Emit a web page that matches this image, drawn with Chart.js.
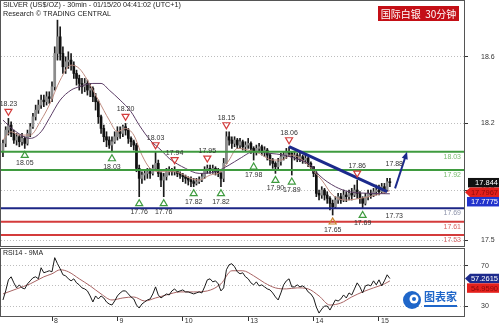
<!DOCTYPE html>
<html>
<head>
<meta charset="utf-8">
<title>Silver 30min</title>
<script src="https://cdn.jsdelivr.net/npm/chart.js@4.4.1/dist/chart.umd.min.js"></script>
<style>
  html, body { margin: 0; padding: 0; background: #fff; }
  #wrap { position: relative; width: 499px; height: 326px; overflow: hidden; }
  canvas { position: absolute; left: 0; }
  #priceChart { top: 0; }
  #rsiChart { top: 247px; }
</style>
</head>
<body>
<div id="wrap">
  <canvas id="priceChart" width="499" height="247"></canvas>
  <canvas id="rsiChart" width="499" height="79"></canvas>
</div>
<script>
// hourly bars, index 0 = 7 Jan 06:00, last = 15 Jan 04:00
const dayStart = [18, 42, 66, 90, 114, 138];
const dayLabels = ['8', '9', '10', '13', '14', '15'];

const open = [
  18.03, 18.08, 18.16, 18.19, 18.14, 18.10, 18.12, 18.09, 18.11, 18.08, 18.14, 18.18, 18.24, 18.28, 18.31, 18.34, 18.33, 18.36,
  18.35, 18.42, 18.62, 18.72, 18.62, 18.54, 18.57, 18.58, 18.55, 18.50, 18.47, 18.44, 18.42, 18.44, 18.40, 18.41, 18.36, 18.33, 18.24, 18.17, 18.12, 18.10, 18.07, 18.09,
  18.12, 18.15, 18.14, 18.18, 18.16, 18.11, 18.09, 18.07, 17.93, 17.87, 17.89, 17.90, 17.91, 17.90, 17.93, 17.96, 17.90, 17.86, 17.88, 17.91, 17.92, 17.91, 17.92, 17.90,
  17.89, 17.88, 17.87, 17.86, 17.85, 17.84, 17.85, 17.86, 17.88, 17.92, 17.93, 17.92, 17.93, 17.91, 17.90, 17.87, 17.96, 18.12, 18.10, 18.08, 18.10, 18.07, 18.09, 18.06,
  18.07, 18.08, 18.05, 18.03, 18.05, 18.06, 18.03, 18.04, 18.01, 17.98, 17.96, 17.94, 17.97, 18.00, 18.01, 18.03, 18.02, 18.00, 18.01, 17.99, 18.00, 17.98, 17.99, 17.96,
  17.94, 17.90, 17.78, 17.77, 17.80, 17.77, 17.75, 17.72, 17.70, 17.74, 17.76, 17.74, 17.77, 17.76, 17.78, 17.77, 17.80, 17.78, 17.75, 17.72, 17.76, 17.78, 17.77, 17.79,
  17.80, 17.79, 17.82, 17.80, 17.85
];
const high = [
  18.10, 18.18, 18.23, 18.21, 18.16, 18.14, 18.13, 18.14, 18.12, 18.16, 18.20, 18.26, 18.31, 18.34, 18.37, 18.37, 18.39, 18.39,
  18.45, 18.66, 18.82, 18.78, 18.66, 18.60, 18.63, 18.62, 18.57, 18.52, 18.49, 18.47, 18.47, 18.46, 18.44, 18.42, 18.38, 18.34, 18.25, 18.19, 18.15, 18.12, 18.12, 18.15,
  18.18, 18.18, 18.19, 18.20, 18.17, 18.12, 18.10, 18.08, 17.95, 17.91, 17.92, 17.93, 17.93, 17.95, 18.03, 17.98, 17.91, 17.90, 17.93, 17.94, 17.93, 17.94, 17.92, 17.91,
  17.90, 17.89, 17.88, 17.88, 17.87, 17.87, 17.88, 17.90, 17.94, 17.95, 17.95, 17.95, 17.94, 17.93, 17.91, 17.99, 18.15, 18.15, 18.12, 18.12, 18.11, 18.11, 18.10, 18.09,
  18.11, 18.09, 18.06, 18.07, 18.08, 18.07, 18.06, 18.05, 18.02, 17.99, 17.97, 17.99, 18.02, 18.03, 18.05, 18.06, 18.03, 18.03, 18.02, 18.02, 18.01, 18.01, 18.00, 17.97,
  17.94, 17.91, 17.80, 17.82, 17.81, 17.79, 17.76, 17.74, 17.76, 17.78, 17.78, 17.80, 17.79, 17.80, 17.81, 17.83, 17.86, 17.79, 17.76, 17.78, 17.80, 17.80, 17.81, 17.83,
  17.83, 17.84, 17.84, 17.87, 17.87
];
const low = [
  18.00, 18.06, 18.13, 18.12, 18.08, 18.07, 18.06, 18.07, 18.05, 18.07, 18.12, 18.17, 18.22, 18.26, 18.29, 18.30, 18.31, 18.32,
  18.33, 18.40, 18.58, 18.58, 18.50, 18.50, 18.53, 18.52, 18.47, 18.43, 18.40, 18.38, 18.39, 18.37, 18.36, 18.33, 18.28, 18.20, 18.14, 18.09, 18.06, 18.05, 18.03, 18.08,
  18.10, 18.11, 18.12, 18.13, 18.08, 18.06, 18.04, 17.91, 17.76, 17.84, 17.86, 17.87, 17.87, 17.89, 17.92, 17.88, 17.82, 17.76, 17.86, 17.89, 17.89, 17.89, 17.88, 17.87,
  17.85, 17.84, 17.83, 17.82, 17.82, 17.83, 17.84, 17.85, 17.87, 17.90, 17.90, 17.90, 17.89, 17.88, 17.82, 17.85, 17.96, 18.07, 18.05, 18.06, 18.05, 18.05, 18.04, 18.03,
  18.05, 18.02, 17.98, 18.01, 18.03, 18.01, 18.00, 17.98, 17.95, 17.93, 17.90, 17.92, 17.95, 17.98, 17.99, 18.00, 17.89, 17.98, 17.97, 17.97, 17.96, 17.96, 17.94, 17.92,
  17.88, 17.76, 17.74, 17.75, 17.74, 17.72, 17.68, 17.65, 17.69, 17.72, 17.72, 17.73, 17.73, 17.74, 17.74, 17.76, 17.75, 17.72, 17.69, 17.71, 17.74, 17.75, 17.76, 17.77,
  17.77, 17.78, 17.78, 17.79, 17.82
];
const close = [
  18.08, 18.16, 18.19, 18.14, 18.10, 18.12, 18.09, 18.11, 18.08, 18.14, 18.18, 18.24, 18.28, 18.31, 18.34, 18.33, 18.36, 18.35,
  18.42, 18.62, 18.72, 18.62, 18.54, 18.57, 18.58, 18.55, 18.50, 18.47, 18.44, 18.42, 18.44, 18.40, 18.41, 18.36, 18.33, 18.24, 18.17, 18.12, 18.10, 18.07, 18.09, 18.12,
  18.15, 18.14, 18.18, 18.16, 18.11, 18.09, 18.07, 17.93, 17.87, 17.89, 17.90, 17.91, 17.90, 17.93, 17.96, 17.90, 17.86, 17.88, 17.91, 17.92, 17.91, 17.92, 17.90, 17.89,
  17.88, 17.87, 17.86, 17.85, 17.84, 17.85, 17.86, 17.88, 17.92, 17.93, 17.92, 17.93, 17.91, 17.90, 17.87, 17.96, 18.12, 18.10, 18.08, 18.10, 18.07, 18.09, 18.06, 18.07,
  18.08, 18.05, 18.03, 18.05, 18.06, 18.03, 18.04, 18.01, 17.98, 17.96, 17.94, 17.97, 18.00, 18.01, 18.03, 18.02, 18.00, 18.01, 17.99, 18.00, 17.98, 17.99, 17.96, 17.94,
  17.90, 17.78, 17.77, 17.80, 17.77, 17.75, 17.72, 17.70, 17.74, 17.76, 17.74, 17.77, 17.76, 17.78, 17.77, 17.80, 17.78, 17.75, 17.72, 17.76, 17.78, 17.77, 17.79, 17.80,
  17.79, 17.82, 17.80, 17.85, 17.844
];

// moving averages (bar index, price)
const maFastIdx = [0, 3, 6, 10, 14, 17, 21, 25, 28, 31, 35, 39, 42, 45, 48, 51, 54, 58, 63, 69, 72, 76, 80, 83, 86, 90, 94, 99, 102, 106, 110, 113, 117, 121, 126, 131, 137, 142];
const maFastVal = [18.10, 18.15, 18.13, 18.13, 18.22, 18.31, 18.46, 18.55, 18.53, 18.46, 18.34, 18.22, 18.15, 18.17, 18.13, 18.01, 17.93, 17.91, 17.91, 17.87, 17.86, 17.89, 17.91, 17.98, 18.05, 18.04, 18.02, 17.98, 17.98, 18.01, 17.98, 17.93, 17.86, 17.77, 17.74, 17.75, 17.77, 17.7967];
const maSlowIdx = [0, 4, 10, 14, 17, 21, 25, 28, 33, 36, 39, 43, 47, 50, 54, 58, 61, 67, 72, 78, 83, 87, 92, 98, 103, 109, 113, 116, 122, 127, 135, 142];
const maSlowVal = [18.22, 18.16, 18.11, 18.15, 18.23, 18.34, 18.40, 18.42, 18.44, 18.44, 18.40, 18.34, 18.27, 18.19, 18.10, 18.04, 17.99, 17.93, 17.90, 17.91, 17.95, 17.99, 18.03, 18.02, 18.01, 17.98, 17.95, 17.89, 17.82, 17.79, 17.78, 17.7775];

const rsi = [
  36, 45, 56, 59, 53, 48, 51, 48, 47, 52, 55, 58, 59, 57, 68, 63, 64, 65,
  64, 78, 72, 67, 61, 60, 57, 55, 57, 53, 51, 48, 47, 45, 40, 34, 40, 37, 40, 38, 34, 32, 31, 35,
  40, 43, 45, 45, 42, 39, 37, 31, 28, 32, 34, 36, 37, 42, 49, 41, 38, 40, 42, 41, 45, 47, 44, 45,
  46, 44, 44, 43, 42, 43, 44, 43, 49, 56, 57, 54, 55, 52, 45, 48, 66, 71, 72, 69, 64, 62, 63, 59,
  57, 53, 51, 54, 50, 51, 49, 47, 46, 43, 39, 36, 43, 51, 55, 57, 49, 49, 51, 49, 50, 48, 44, 42,
  38, 29, 23, 27, 30, 30, 26, 31, 36, 35, 37, 41, 38, 43, 41, 47, 53, 49, 43, 50, 51, 50, 55, 51,
  56, 50, 55, 61, 57.26
];
const rsiMaIdx = [0, 5, 10, 15, 18, 21, 24, 28, 32, 36, 40, 44, 48, 52, 56, 60, 65, 70, 75, 80, 84, 88, 92, 96, 100, 104, 108, 112, 116, 120, 124, 128, 132, 136, 140, 142];
const rsiMaVal = [42, 47, 52, 59, 62, 66, 64, 57, 50, 42, 36, 38, 39, 35, 38, 41, 44, 44, 45, 52, 65, 65, 60, 53, 48, 47, 48, 47, 40, 31, 33, 39, 44, 48, 52, 54.96];

// drawn studies
const levels = [18.03, 17.92, 17.69, 17.61, 17.53];
const levelColors = ['#3f9b3f', '#3f9b3f', '#1c2686', '#d43b3b', '#d43b3b'];
const levelTextColors = ['#79bb6f', '#79bb6f', '#8d93aa', '#d86464', '#d86464'];

const peakIdx = [2, 45, 56, 63, 75, 82, 105, 130];
const peakVal = [18.23, 18.20, 18.03, 17.94, 17.95, 18.15, 18.06, 17.86];
const troughIdx = [8, 40, 50, 59, 70, 80, 92, 100, 106, 121, 132];
const troughVal = [18.05, 18.03, 17.76, 17.76, 17.82, 17.82, 17.98, 17.90, 17.89, 17.65, 17.69];

const trendIdx = [105, 141];
const trendVal = [18.06, 17.79];
const arrowIdx = [143.9, 148.3];
const arrowVal = [17.81, 18.03];
const targetText = ['17.88', '17.73'];
const targetIdx = [143.6, 143.6];
const targetVal = [17.955, 17.645];

const priceTagText = ['17.844', '17.7967', '17.7775'];
const priceTagVal = [17.844, 17.7967, 17.7775];
const rsiTagText = ['57.2615', '54.9590'];
const rsiTagVal = [57.2615, 54.959];

Chart.defaults.font.family = '"Liberation Sans", Arial, sans-serif';
Chart.defaults.font.size = 7;
Chart.defaults.color = '#333';

const idx = close.map((c, i) => i);
const wickPts = idx.map(i => ({ x: i, y: [low[i], high[i]] }));
const bodyPts = idx.map(i => ({ x: i, y: [open[i], close[i]] }));
const bodyColors = idx.map(i => close[i] >= open[i] ? '#8c8c8c' : '#111');

const font = (s, w) => (w || '') + ' ' + s + 'px "Liberation Sans", Arial, sans-serif';

// keep axis labels from shrinking the plot area
const noPad = s => { s.paddingTop = 0; s.paddingBottom = 0; s.paddingLeft = 0; s.paddingRight = 0; };

function drawTag(ctx, xl, yc, w, h, bg, fg, text, arrow) {
  ctx.fillStyle = bg;
  ctx.beginPath();
  if (arrow) {
    ctx.moveTo(xl, yc);
    ctx.lineTo(xl + 5, yc - h / 2);
    ctx.lineTo(xl + w, yc - h / 2);
    ctx.lineTo(xl + w, yc + h / 2);
    ctx.lineTo(xl + 5, yc + h / 2);
  } else {
    ctx.rect(xl, yc - h / 2, w, h);
  }
  ctx.closePath();
  ctx.fill();
  ctx.fillStyle = fg;
  ctx.font = font(7.5);
  ctx.textAlign = 'right';
  ctx.textBaseline = 'middle';
  ctx.fillText(text, xl + w - 1, yc + 0.5);
}

function triangle(ctx, x, y, down, color) {
  ctx.strokeStyle = color;
  ctx.lineWidth = 1.2;
  ctx.beginPath();
  if (down) {
    ctx.moveTo(x - 3.5, y - 3); ctx.lineTo(x + 3.5, y - 3); ctx.lineTo(x, y + 3);
  } else {
    ctx.moveTo(x - 3.5, y + 3); ctx.lineTo(x + 3.5, y + 3); ctx.lineTo(x, y - 3);
  }
  ctx.closePath();
  ctx.stroke();
}

const pricePlugin = {
  id: 'priceStudies',
  afterDatasetsDraw(chart) {
    const { ctx, chartArea: a, scales: { x, y } } = chart;
    ctx.save();
    // support / resistance lines
    levels.forEach((v, k) => {
      const yy = y.getPixelForValue(v);
      ctx.strokeStyle = levelColors[k];
      ctx.lineWidth = 2;
      ctx.beginPath(); ctx.moveTo(a.left, yy); ctx.lineTo(a.right, yy); ctx.stroke();
      ctx.fillStyle = levelTextColors[k];
      ctx.font = font(7);
      ctx.textAlign = 'right';
      ctx.textBaseline = 'top';
      ctx.fillText(v.toFixed(2), a.right - 3, yy + 1.5);
    });
    // trend line
    ctx.strokeStyle = '#1c2a8c';
    ctx.lineWidth = 3;
    ctx.beginPath();
    ctx.moveTo(x.getPixelForValue(trendIdx[0]), y.getPixelForValue(trendVal[0]));
    ctx.lineTo(x.getPixelForValue(trendIdx[1]), y.getPixelForValue(trendVal[1]));
    ctx.stroke();
    // projection arrow
    const ax0 = x.getPixelForValue(arrowIdx[0]), ay0 = y.getPixelForValue(arrowVal[0]);
    const ax1 = x.getPixelForValue(arrowIdx[1]), ay1 = y.getPixelForValue(arrowVal[1]);
    const ang = Math.atan2(ay1 - ay0, ax1 - ax0);
    ctx.lineWidth = 2;
    ctx.beginPath();
    ctx.moveTo(ax0, ay0);
    ctx.lineTo(ax1 - 5 * Math.cos(ang), ay1 - 5 * Math.sin(ang));
    ctx.stroke();
    ctx.fillStyle = '#1c2a8c';
    ctx.beginPath();
    ctx.moveTo(ax1, ay1);
    ctx.lineTo(ax1 - 8 * Math.cos(ang - 0.4), ay1 - 8 * Math.sin(ang - 0.4));
    ctx.lineTo(ax1 - 8 * Math.cos(ang + 0.4), ay1 - 8 * Math.sin(ang + 0.4));
    ctx.closePath();
    ctx.fill();
    // peaks / troughs
    ctx.font = font(7);
    ctx.textAlign = 'center';
    ctx.textBaseline = 'middle';
    peakIdx.forEach((i, k) => {
      const px = x.getPixelForValue(i), py = y.getPixelForValue(peakVal[k]);
      triangle(ctx, px, py - 6, true, '#d23c3c');
      ctx.fillStyle = '#333';
      ctx.fillText(peakVal[k].toFixed(2), px, py - 14);
    });
    troughIdx.forEach((i, k) => {
      const px = x.getPixelForValue(i), py = y.getPixelForValue(troughVal[k]);
      triangle(ctx, px, py + 6, false, troughVal[k] === 17.65 ? '#c8842e' : '#3f9b3f');
      ctx.fillStyle = '#333';
      ctx.fillText(troughVal[k].toFixed(2), px, py + 15);
    });
    targetText.forEach((t, k) => {
      ctx.fillStyle = '#333';
      ctx.fillText(t, x.getPixelForValue(targetIdx[k]), y.getPixelForValue(targetVal[k]));
    });
    ctx.restore();
  },
  afterDraw(chart) {
    const { ctx, chartArea: a, scales: { y } } = chart;
    ctx.save();
    ctx.strokeStyle = '#555';
    ctx.lineWidth = 1;
    ctx.strokeRect(a.left - 0.5, a.top - 0.5, a.right - a.left + 1, a.bottom - a.top + 1);
    // header
    ctx.fillStyle = '#222';
    ctx.font = font(7.2);
    ctx.textAlign = 'left';
    ctx.textBaseline = 'middle';
    ctx.fillText('SILVER (US$/OZ) - 30min - 01/15/20 04:41:02 (UTC+1)', a.left + 2, a.top + 4.5);
    ctx.fillText('Research \u00a9 TRADING CENTRAL', a.left + 2, a.top + 13.5);
    // badge
    ctx.fillStyle = '#c40f16';
    ctx.fillRect(a.right - 86, a.top + 5, 81, 15);
    ctx.fillStyle = '#fff';
    ctx.font = '10px "Noto Sans CJK SC", sans-serif';
    ctx.textAlign = 'center';
    ctx.fillText('国际白银  30分钟', a.right - 45.5, a.top + 13);
    // right side price tags
    const styles = [['#111', '#fff', false, 4], ['#e4201c', '#8a0a0a', true, 1], ['#2233cc', '#fff', false, 3]];
    let prevBottom = -1e9;
    priceTagVal.forEach((v, k) => {
      const h = 9.5;
      let yc = y.getPixelForValue(v);
      if (yc - h / 2 < prevBottom) yc = prevBottom + h / 2;
      prevBottom = yc + h / 2;
      const s = styles[k];
      drawTag(ctx, a.right + s[3], yc, 499 - a.right - s[3], h, s[0], s[1], priceTagText[k], s[2]);
    });
    ctx.restore();
  }
};

new Chart(document.getElementById('priceChart'), {
  type: 'bar',
  data: {
    datasets: [
      { type: 'line', data: maSlowIdx.map((i, k) => ({ x: i, y: maSlowVal[k] })), borderColor: '#5c3d66', borderWidth: 1, pointRadius: 0, cubicInterpolationMode: 'monotone', order: 0 },
      { type: 'line', data: maFastIdx.map((i, k) => ({ x: i, y: maFastVal[k] })), borderColor: '#bf8c80', borderWidth: 1, pointRadius: 0, cubicInterpolationMode: 'monotone', order: 1 },
      { data: wickPts, backgroundColor: '#1a1a1a', barThickness: 1, grouped: false, order: 3 },
      { data: bodyPts, backgroundColor: bodyColors, barThickness: 2, minBarLength: 1, grouped: false, borderSkipped: false, order: 2 }
    ]
  },
  options: {
    responsive: false,
    animation: false,
    layout: { padding: { left: 1, top: 1, right: 0, bottom: 1 } },
    plugins: { legend: { display: false }, tooltip: { enabled: false } },
    scales: {
      x: { type: 'linear', min: -0.72, max: 169.2, offset: false, display: false },
      y: {
        position: 'right',
        min: 17.464,
        max: 18.935,
        afterBuildTicks: s => { s.ticks = [17.5, 17.8, 18.2, 18.6].map(v => ({ value: v })); },
        afterFit: s => { s.width = 35; noPad(s); },
        ticks: { padding: 13, callback: v => String(v), color: '#333' },
        grid: { color: '#bdbdbd', tickColor: '#333', tickLength: 4, tickBorderDash: [] },
        border: { display: false, dash: [1, 2] }
      }
    }
  },
  plugins: [pricePlugin]
});

const rsiPlugin = {
  id: 'rsiExtras',
  afterDraw(chart) {
    const { ctx, chartArea: a, scales: { y } } = chart;
    ctx.save();
    ctx.strokeStyle = '#555';
    ctx.lineWidth = 1;
    ctx.strokeRect(a.left - 0.5, a.top - 0.5, a.right - a.left + 1, a.bottom - a.top + 1);
    ctx.fillStyle = '#222';
    ctx.font = font(7);
    ctx.textAlign = 'left';
    ctx.textBaseline = 'middle';
    ctx.fillText('RSI14 - 9MA', a.left + 2, a.top + 4);
    // watermark logo
    const lx = a.right - 52, ly = a.bottom - 16;
    ctx.fillStyle = '#1f66c9';
    ctx.beginPath(); ctx.arc(lx, ly, 9, 0, Math.PI * 2); ctx.fill();
    ctx.fillStyle = '#fff';
    ctx.beginPath(); ctx.arc(lx + 2, ly - 1, 4.5, 0, Math.PI * 2); ctx.fill();
    ctx.fillStyle = '#1f66c9';
    ctx.beginPath(); ctx.arc(lx + 2, ly - 1, 2, 0, Math.PI * 2); ctx.fill();
    ctx.font = 'bold 11px "Noto Sans CJK SC", sans-serif';
    ctx.fillText('图表家', lx + 12, ly - 3);
    ctx.fillRect(lx + 12, ly + 5, 33, 2);
    // tags
    const styles = [['#1c2a8c', '#fff', true, 1], ['#e4201c', '#8a0a0a', false, 3]];
    let prevBottom = -1e9;
    rsiTagVal.forEach((v, k) => {
      const h = 9.5;
      let yc = y.getPixelForValue(v);
      if (yc - h / 2 < prevBottom) yc = prevBottom + h / 2;
      prevBottom = yc + h / 2;
      const s = styles[k];
      drawTag(ctx, a.right + s[3], yc, 499 - a.right - s[3], h, s[0], s[1], rsiTagText[k], s[2]);
    });
    ctx.restore();
  }
};

new Chart(document.getElementById('rsiChart'), {
  type: 'line',
  data: {
    datasets: [
      { data: idx.map(i => ({ x: i, y: rsi[i] })), borderColor: '#1a1a1a', borderWidth: 1, pointRadius: 0, tension: 0, order: 0 },
      { data: rsiMaIdx.map((i, k) => ({ x: i, y: rsiMaVal[k] })), borderColor: '#a86464', borderWidth: 1, pointRadius: 0, cubicInterpolationMode: 'monotone', order: 1 }
    ]
  },
  options: {
    responsive: false,
    animation: false,
    layout: { padding: { left: 1, top: 2, right: 0, bottom: 0 } },
    plugins: { legend: { display: false }, tooltip: { enabled: false } },
    scales: {
      x: {
        type: 'linear', min: -0.72, max: 169.2, offset: false,
        afterBuildTicks: s => { s.ticks = dayStart.map(v => ({ value: v })); },
        afterFit: s => { s.height = 10; noPad(s); },
        ticks: { autoSkip: false, maxRotation: 0, align: 'start', labelOffset: 2, padding: -4, callback: v => dayLabels[dayStart.indexOf(v)] },
        grid: { drawOnChartArea: false, tickLength: 5, tickColor: '#333' },
        border: { display: false }
      },
      y: {
        position: 'right',
        min: 20.1,
        max: 86.6,
        afterBuildTicks: s => { s.ticks = [30, 50, 70].map(v => ({ value: v })); },
        afterFit: s => { s.width = 35; noPad(s); },
        ticks: { padding: 13, callback: v => v === 50 ? '' : String(v) },
        grid: {
          color: '#bdbdbd', tickLength: 4, tickBorderDash: [],
          tickColor: c => (c.tick && c.tick.value === 50) ? 'rgba(0,0,0,0)' : '#333'
        },
        border: { display: false, dash: [1, 2] }
      }
    }
  },
  plugins: [rsiPlugin]
});
</script>
</body>
</html>
